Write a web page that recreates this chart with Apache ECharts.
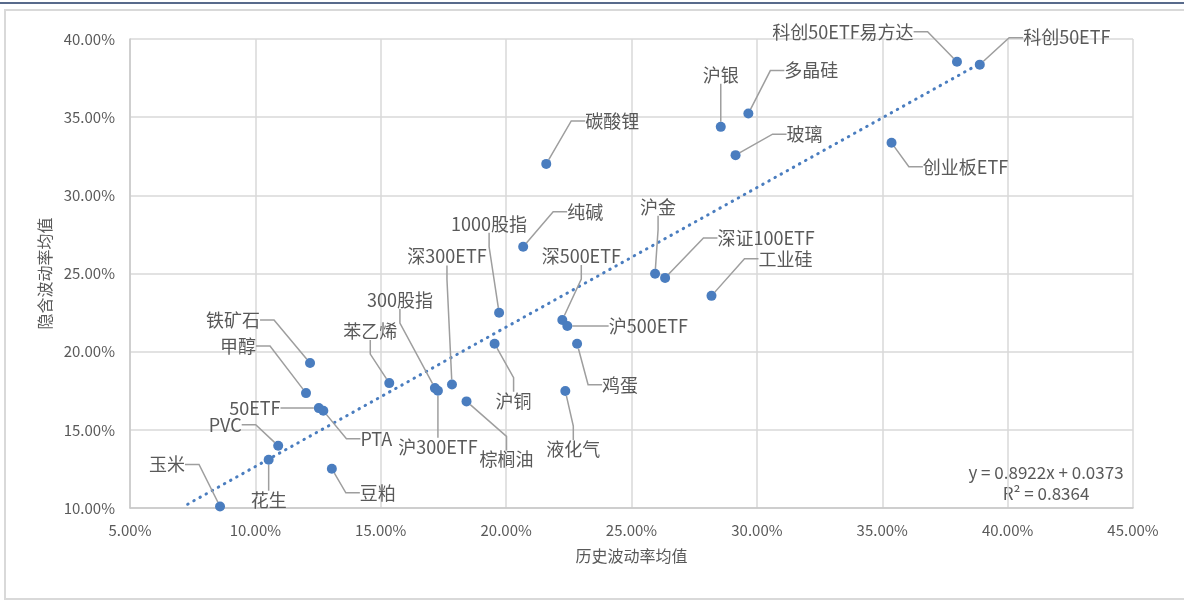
<!DOCTYPE html>
<html>
<head>
<meta charset="utf-8">
<title>隐含波动率与历史波动率</title>
<script src="https://cdn.jsdelivr.net/npm/echarts@6/dist/echarts.min.js"></script>
<style>
    html, body { margin: 0; padding: 0; background: #fff; }
    #main { width: 1184px; height: 608px; }
</style>
</head>
<body>
<div id="main"></div>
<script>
(function() {
    //品种
    var names = ['科创50ETF易方达', '科创50ETF', '多晶硅', '沪银', '玻璃', '创业板ETF', '碳酸锂', '沪金',
        '深证100ETF', '工业硅', '纯碱', '1000股指', '深300ETF', '深500ETF', '沪500ETF', '沪铜', '鸡蛋',
        '液化气', '300股指', '沪300ETF', '棕榈油', '苯乙烯', '铁矿石', '甲醇', '50ETF', 'PTA', 'PVC',
        '花生', '豆粕', '玉米'];
    //历史波动率均值 (%)
    var histVol = [37.98, 38.89, 29.66, 28.56, 29.15, 35.37, 21.60, 25.94,
        26.34, 28.19, 20.68, 19.72, 17.84, 22.24, 22.44, 19.54, 22.83,
        22.36, 17.16, 17.28, 18.42, 15.34, 12.18, 12.02, 12.53, 12.71, 10.91,
        10.53, 13.05, 8.59];
    //隐含波动率均值 (%)
    var implVol = [38.54, 38.36, 35.23, 34.38, 32.57, 33.36, 32.01, 24.98,
        24.72, 23.57, 26.71, 22.49, 17.90, 22.02, 21.64, 20.51, 20.51,
        17.48, 17.67, 17.50, 16.82, 17.99, 19.27, 17.35, 16.39, 16.22, 13.98,
        13.09, 12.51, 10.10];
    //线性趋势线 y = 0.8922x + 0.0373
    var slope = 0.8922;
    var intercept = 0.0373;
    var rSquared = 0.8364;
    var trendStartX = 7.3;
    //坐标轴刻度
    var xMin = 5, xMax = 45, xStep = 5;
    var yMin = 10, yMax = 40, yStep = 5;

    //标签相对数据点的偏移 (布局用)
    var labelOffsets = [[-114, -30], [87, -27], [63, -43], [0, -52], [69, -21], [74, 24], [66, -43], [3, -67],
        [101, -40], [74, -37], [62, -35], [-10, -89], [-5, -128], [19, -64], [81, 0], [19, 57], [43, 41],
        [8, 58], [-35, -88], [0, 56], [40, 58], [-19, -52], [-77, -43], [-68, -47], [-64, 0], [53, 28], [-53, -21],
        [0, 40], [46, 24], [-53, -42]];

    var font = 'Noto Sans CJK SC';
    var blue = '#4a7dbf';
    var grey = '#595959';

    var points = names.map(function(n, i) {
        return { name: n, value: [histVol[i], implVol[i]] };
    });
    var trendEndX = Math.max.apply(null, histVol);
    var trendData = [trendStartX, trendEndX].map(function(x) {
        return [x, slope * x + intercept * 100];
    });

    var myChart = echarts.init(document.getElementById('main'));
    var option = {
        backgroundColor: '#fff',
        animation: false,
        textStyle: { fontFamily: font },
        grid: { left: 130, right: 51, top: 39, bottom: 100 },
        xAxis: {
            type: 'value',
            min: xMin,
            max: xMax,
            interval: xStep,
            name: '历史波动率均值',
            nameLocation: 'middle',
            nameGap: 40,
            nameTextStyle: { color: grey, fontSize: 16, fontFamily: font },
            axisLine: { lineStyle: { color: '#c8c8c8', width: 1.5 } },
            axisTick: { show: false },
            axisLabel: {
                color: grey, fontSize: 15, margin: 15,
                formatter: function(v) { return v.toFixed(2) + '%'; }
            },
            splitLine: { lineStyle: { color: '#d9d9d9', width: 1.5 } }
        },
        yAxis: {
            type: 'value',
            min: yMin,
            max: yMax,
            interval: yStep,
            name: '隐含波动率均值',
            nameLocation: 'middle',
            nameGap: 69,
            nameTextStyle: { color: grey, fontSize: 16, fontFamily: font },
            axisLine: { show: true, lineStyle: { color: '#c8c8c8', width: 1.5 } },
            axisTick: { show: false },
            axisLabel: {
                color: grey, fontSize: 15, margin: 15,
                formatter: function(v) { return v.toFixed(2) + '%'; }
            },
            splitLine: { lineStyle: { color: '#d9d9d9', width: 1.5 } }
        },
        series: [{
            //趋势线
            type: 'line',
            data: trendData,
            showSymbol: false,
            silent: true,
            z: 1,
            lineStyle: { color: blue, width: 3, type: [0.5, 6.5], cap: 'round' }
        }, {
            type: 'scatter',
            data: points,
            symbolSize: 10,
            z: 3,
            itemStyle: { color: blue, opacity: 1 },
            label: {
                show: true,
                position: 'inside',
                formatter: '{b}',
                color: grey,
                fontSize: 18,
                fontFamily: font,
                padding: [3, 8]
            },
            labelLine: {
                show: true,
                length2: 14,
                lineStyle: { color: '#9e9e9e', width: 1.5 }
            },
            labelLayout: function(params) {
                var o = labelOffsets[params.dataIndex];
                return { dx: o[0], dy: o[1] };
            },
            emphasis: { disabled: true }
        }],
        graphic: [{
            type: 'line',
            shape: { x1: 0, y1: 3, x2: 1184, y2: 3 },
            style: { stroke: '#203864', lineWidth: 1.5 }
        }, {
            type: 'rect',
            shape: { x: 5, y: 10, width: 1200, height: 589 },
            style: { fill: null, stroke: '#d9d9d9', lineWidth: 2 },
            silent: true
        }, {
            type: 'text',
            x: 1046,
            y: 483,
            style: {
                text: 'y = ' + slope + 'x + ' + intercept + '\nR² = ' + rSquared,
                fill: grey,
                font: '17px "Noto Sans CJK SC"',
                align: 'center',
                verticalAlign: 'middle',
                lineHeight: 21
            }
        }]
    };
    myChart.setOption(option);
})()
</script>
</body>
</html>
